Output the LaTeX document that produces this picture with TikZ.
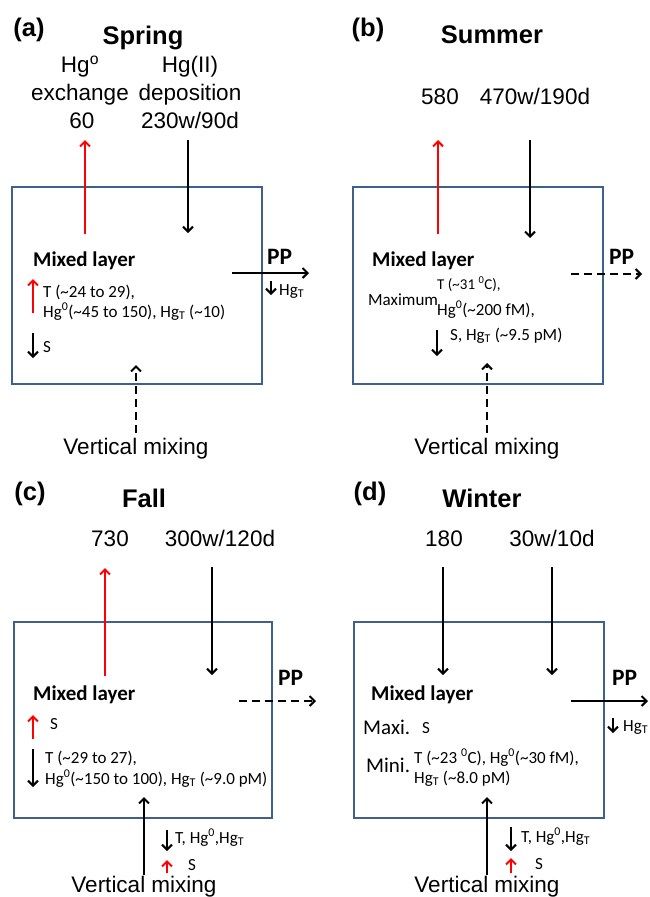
\documentclass[tikz,border=0pt]{standalone}
\usepackage{fontspec}
\usetikzlibrary{arrows.meta}
\setmainfont{Liberation Sans}
\newfontfamily\calfont{Carlito}
\definecolor{boxblue}{RGB}{62,96,140}
\tikzset{
    >={Straight Barb[length=5pt,width=10pt]},
    lbl/.style={inner sep=0pt, anchor=base, font=\fontsize{22.5}{27}\selectfont},
    ttl/.style={inner sep=0pt, anchor=base, font=\fontsize{25.5}{30}\selectfont\bfseries},
    mix/.style={inner sep=0pt, anchor=base west, font=\calfont\fontsize{21}{25}\selectfont\bfseries},
    pp/.style={inner sep=0pt, anchor=base west, font=\calfont\fontsize{23.5}{28}\selectfont\bfseries},
    txt/.style={inner sep=0pt, anchor=base west, font=\calfont\fontsize{17}{20}\selectfont},
    tiny/.style={inner sep=0pt, anchor=base west, font=\calfont\fontsize{15}{18}\selectfont},
    big/.style={inner sep=0pt, anchor=base west, font=\calfont\fontsize{21}{25}\selectfont},
    layer/.style={draw=boxblue, line width=2.5pt},
    flux/.style={->, line width=2pt},
    redflux/.style={flux, red},
    dflux/.style={flux, dash pattern=on 8pt off 5pt}
}
\begin{document}
\begin{tikzpicture}[x=1pt, y=-1pt]
    \useasboundingbox (0,0) rectangle (649,897);
    \clip (0,0) rectangle (649,897);

    % (a) spring
    \draw[layer] (12,187) rectangle (262,384);
    \node[ttl] (aTag) at (29,36) {(a)};
    \node[ttl] (aSeason) at (143,44) {Spring};
    \node[lbl] (aHgo) at (80,72) {Hg\textsuperscript{o}};
    \node[lbl] (aExch) at (80,100) {exchange};
    \node[lbl] (aExVal) at (82,128) {60};
    \node[lbl] (aHgII) at (190,72) {Hg(II)};
    \node[lbl] (aDepo) at (190,100) {deposition};
    \node[lbl] (aDepVal) at (190,128) {230w/90d};
    \node[mix] (aMix) at (33,266) {Mixed layer};
    \node[pp] (aPP) at (267,264) {PP};
    \node[txt] (aHgT) at (279,295) {Hg\textsubscript{T}};
    \node[txt] (aT) at (43,297) {T (\textasciitilde24 to 29),};
    \node[txt] (aHg) at (43,317) {Hg\textsuperscript{0}(\textasciitilde45 to 150), Hg\textsubscript{T} (\textasciitilde10)};
    \node[txt] (aS) at (43,352) {S};
    \node[lbl] (aVert) at (136,454) {Vertical mixing};
    \coordinate (aEx0) at (85,234);   \coordinate (aEx1) at (85,140);
    \coordinate (aDep0) at (188,140); \coordinate (aDep1) at (188,233);
    \coordinate (aPP0) at (232,273);  \coordinate (aPP1) at (309,273);
    \coordinate (aHg0) at (271,281);  \coordinate (aHg1) at (271,295);
    \coordinate (aT0) at (33,313);    \coordinate (aT1) at (33,279);
    \coordinate (aS0) at (33,333);    \coordinate (aS1) at (33,358);
    \coordinate (aVm0) at (136,433);  \coordinate (aVm1) at (136,365);
    \draw[redflux] (aEx0) -- (aEx1);
    \draw[flux] (aDep0) -- (aDep1);
    \draw[flux] (aPP0) -- (aPP1);
    \draw[flux] (aHg0) -- (aHg1);
    \draw[redflux] (aT0) -- (aT1);
    \draw[flux] (aS0) -- (aS1);
    \draw[dflux] (aVm0) -- (aVm1);

    % (b) summer
    \draw[layer] (353,187) rectangle (603,384);
    \node[ttl] (bTag) at (368,36) {(b)};
    \node[ttl] (bSeason) at (492,43) {Summer};
    \node[lbl] (bExVal) at (440,104) {580};
    \node[lbl] (bDepVal) at (535,104) {470w/190d};
    \node[mix] (bMix) at (372,266) {Mixed layer};
    \node[pp] (bPP) at (609,264) {PP};
    \node[txt] (bMax) at (368,305) {Maximum};
    \node[tiny] (bT) at (437,289) {T (\textasciitilde31 \textsuperscript{0}C),};
    \node[txt] (bHg) at (437,315) {Hg\textsuperscript{0}(\textasciitilde200 fM),};
    \node[txt] (bS) at (450,340) {S, Hg\textsubscript{T} (\textasciitilde9.5 pM)};
    \node[lbl] (bVert) at (487,454) {Vertical mixing};
    \coordinate (bEx0) at (438,234);  \coordinate (bEx1) at (438,140);
    \coordinate (bDep0) at (530,140); \coordinate (bDep1) at (530,238);
    \coordinate (bPP0) at (571,274);  \coordinate (bPP1) at (642,274);
    \coordinate (bS0) at (437,330);   \coordinate (bS1) at (437,356);
    \coordinate (bVm0) at (487,433);  \coordinate (bVm1) at (487,363);
    \draw[redflux] (bEx0) -- (bEx1);
    \draw[flux] (bDep0) -- (bDep1);
    \draw[dflux] (bPP0) -- (bPP1);
    \draw[flux] (bS0) -- (bS1);
    \draw[dflux] (bVm0) -- (bVm1);

    % (c) fall
    \draw[layer] (14,622) rectangle (272,818);
    \node[ttl] (cTag) at (30,500) {(c)};
    \node[ttl] (cSeason) at (144,507) {Fall};
    \node[lbl] (cExVal) at (110,546) {730};
    \node[lbl] (cDepVal) at (220,546) {300w/120d};
    \node[mix] (cMix) at (33,700) {Mixed layer};
    \node[pp] (cPP) at (278,685) {PP};
    \node[txt] (cS) at (50,729) {S};
    \node[txt] (cT) at (45,763) {T (\textasciitilde29 to 27),};
    \node[txt] (cHg) at (45,784) {Hg\textsuperscript{0}(\textasciitilde150 to 100), Hg\textsubscript{T} (\textasciitilde9.0 pM)};
    \node[txt] (cDeep) at (175,843) {T, Hg\textsuperscript{0},Hg\textsubscript{T}};
    \node[txt] (cDeepS) at (188,870) {S};
    \node[lbl] (cVert) at (144,892) {Vertical mixing};
    \coordinate (cEx0) at (105,676);  \coordinate (cEx1) at (105,568);
    \coordinate (cDep0) at (212,567); \coordinate (cDep1) at (212,675);
    \coordinate (cPP0) at (239,701);  \coordinate (cPP1) at (316,701);
    \coordinate (cS0) at (33,739);    \coordinate (cS1) at (33,715);
    \coordinate (cT0) at (33,749);    \coordinate (cT1) at (33,787);
    \coordinate (cVm0) at (144,875);  \coordinate (cVm1) at (144,797);
    \coordinate (cD0) at (167,830);   \coordinate (cD1) at (167,851);
    \coordinate (cU0) at (167,873);   \coordinate (cU1) at (167,860);
    \draw[redflux] (cEx0) -- (cEx1);
    \draw[flux] (cDep0) -- (cDep1);
    \draw[dflux] (cPP0) -- (cPP1);
    \draw[redflux] (cS0) -- (cS1);
    \draw[flux] (cT0) -- (cT1);
    \draw[flux] (cVm0) -- (cVm1);
    \draw[flux] (cD0) -- (cD1);
    \draw[redflux] (cU0) -- (cU1);

    % (d) winter
    \draw[layer] (354,622) rectangle (604,818);
    \node[ttl] (dTag) at (370,500) {(d)};
    \node[ttl] (dSeason) at (482,507) {Winter};
    \node[lbl] (dExVal) at (444,546) {180};
    \node[lbl] (dDepVal) at (552,546) {30w/10d};
    \node[mix] (dMix) at (371,700) {Mixed layer};
    \node[pp] (dPP) at (612,685) {PP};
    \node[txt] (dHgT) at (623,731) {Hg\textsubscript{T}};
    \node[big] (dMaxi) at (363,734) {Maxi.};
    \node[txt] (dMaxS) at (422,733) {S};
    \node[big] (dMini) at (366,772) {Mini.};
    \node[txt] (dT) at (414,763) {T (\textasciitilde23 \textsuperscript{0}C), Hg\textsuperscript{0}(\textasciitilde30 fM),};
    \node[txt] (dHg) at (414,783) {Hg\textsubscript{T} (\textasciitilde8.0 pM)};
    \node[txt] (dDeep) at (521,842) {T, Hg\textsuperscript{0},Hg\textsubscript{T}};
    \node[txt] (dDeepS) at (535,869) {S};
    \node[lbl] (dVert) at (487,892) {Vertical mixing};
    \coordinate (dEx0) at (443,567);  \coordinate (dEx1) at (443,675);
    \coordinate (dDep0) at (552,567); \coordinate (dDep1) at (552,675);
    \coordinate (dPP0) at (571,701);  \coordinate (dPP1) at (648,701);
    \coordinate (dHg0) at (613,718);  \coordinate (dHg1) at (613,733);
    \coordinate (dVm0) at (487,875);  \coordinate (dVm1) at (487,797);
    \coordinate (dD0) at (511,827);   \coordinate (dD1) at (511,851);
    \coordinate (dU0) at (511,873);   \coordinate (dU1) at (511,858);
    \draw[flux] (dEx0) -- (dEx1);
    \draw[flux] (dDep0) -- (dDep1);
    \draw[flux] (dPP0) -- (dPP1);
    \draw[flux] (dHg0) -- (dHg1);
    \draw[flux] (dVm0) -- (dVm1);
    \draw[flux] (dD0) -- (dD1);
    \draw[redflux] (dU0) -- (dU1);
\end{tikzpicture}
\end{document}
